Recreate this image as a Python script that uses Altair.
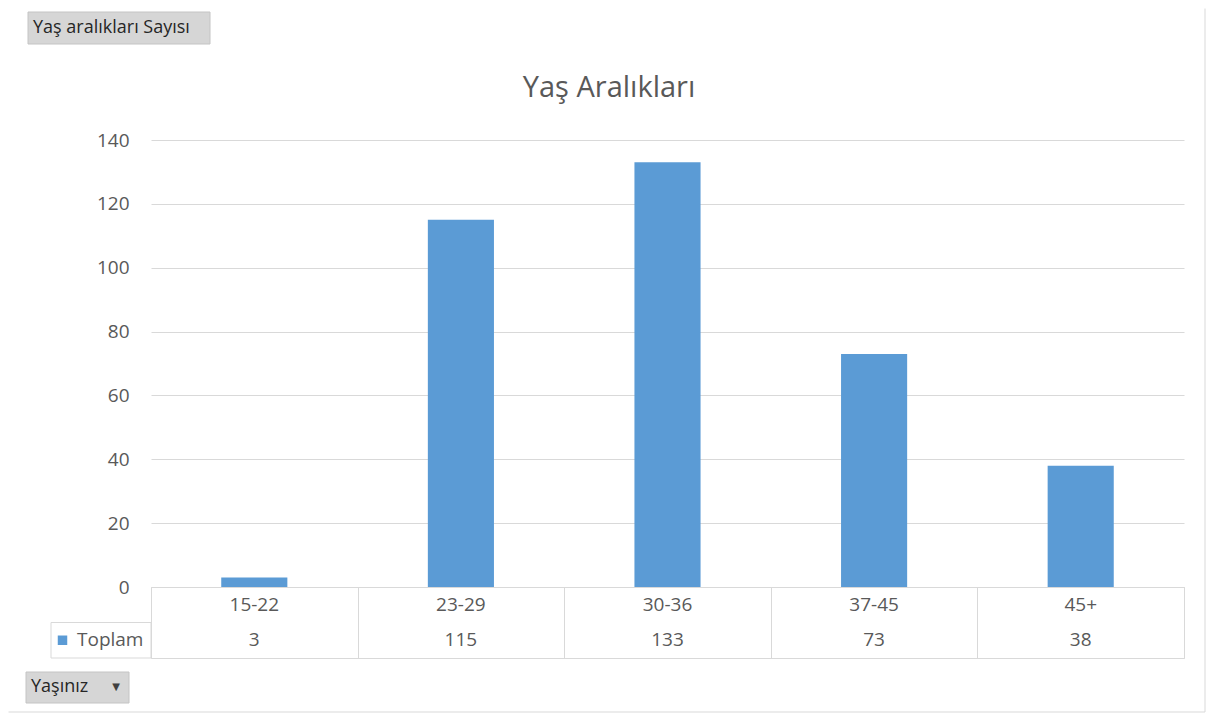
import altair as alt
import pandas as pd

# ---- data ----
categories = ["15-22", "23-29", "30-36", "37-45", "45+"]
values = [3, 115, 133, 73, 38]
series_name = "Toplam"
y_ticks = [0, 20, 40, 60, 80, 100, 120, 140]
chart_title = "Yaş Aralıkları"
field_button = "Yaş aralıkları Sayısı"
axis_button = "Yaşınız"

FONT = "Open Sans"
BAR = "#5B9BD5"
GRID = "#d9d9d9"
TXT = "#595959"
PW, PH, TH = 1033, 447, 71

bars_df = pd.DataFrame({"cat": categories, "val": values})
rows = []
for c, v in zip(categories, values):
    rows.append({"cat": c, "row": "h", "txt": c})
    rows.append({"cat": c, "row": "v", "txt": str(v)})
table_df = pd.DataFrame(rows)
one = pd.DataFrame({"k": [0]})

xscale = alt.Scale(domain=categories, paddingInner=0, paddingOuter=0)

bars = alt.Chart(bars_df).mark_bar(color=BAR, width=alt.RelativeBandSize(0.32)).encode(
    x=alt.X("cat:N", scale=xscale, axis=None, sort=categories),
    y=alt.Y("val:Q", scale=alt.Scale(domain=[0, 140], nice=False),
            axis=alt.Axis(values=y_ticks, title=None, grid=True, gridColor=GRID,
                          ticks=False, domain=False, labelFont=FONT, labelFontSize=19,
                          labelColor=TXT, labelPadding=22)),
)

btn_top_rect = alt.Chart(one).mark_rect(fill="#d6d6d6", stroke="#c4c4c4", strokeWidth=1).encode(
    x=alt.value(-123), x2=alt.value(59), y=alt.value(-128), y2=alt.value(-96))
btn_top_text = alt.Chart(one).mark_text(align="left", baseline="middle", font=FONT,
                                        fontSize=18, color="#262626",
                                        text=field_button).encode(
    x=alt.value(-118), y=alt.value(-112))
title_text = alt.Chart(one).mark_text(align="center", baseline="alphabetic", font=FONT,
                                      fontSize=29, color=TXT, text=chart_title).encode(
    x=alt.value(458), y=alt.value(-43))
border_r = alt.Chart(one).mark_rule(color=GRID, strokeWidth=1).encode(
    x=alt.value(1054), y=alt.value(-131.5), y2=alt.value(572))
border_b = alt.Chart(one).mark_rule(color=GRID, strokeWidth=1).encode(
    x=alt.value(-142.5), x2=alt.value(1054), y=alt.value(572))

top = alt.layer(btn_top_rect, btn_top_text, title_text, border_r, border_b, bars).properties(
    width=PW, height=PH)

# ---- data table ----
yscale = alt.Scale(domain=["h", "v"], paddingInner=0, paddingOuter=0)
xt = alt.X("cat:N", scale=xscale, sort=categories,
           axis=alt.Axis(grid=True, gridColor=GRID, labels=False, ticks=False,
                         domain=False, tickBand="extent", title=None))
yt = alt.Y("row:N", scale=yscale,
           axis=alt.Axis(grid=True, gridColor=GRID, labels=False, ticks=False,
                         domain=False, tickBand="extent", title=None))

cells = alt.Chart(table_df).mark_text(font=FONT, fontSize=19, color=TXT,
                                      baseline="middle").encode(
    x=xt, y=yt, text="txt:N")

vrow = pd.DataFrame({"row": ["v"], "name": [series_name]})
left_cell = alt.Chart(vrow).mark_rect(fill="white", fillOpacity=0, stroke=GRID,
                                      strokeWidth=1).encode(
    x=alt.value(-100), x2=alt.value(0), y=alt.Y("row:N", scale=yscale, axis=None))
swatch = alt.Chart(vrow).mark_square(color=BAR, size=90, opacity=1).encode(
    x=alt.value(-88.5), y=alt.Y("row:N", scale=yscale, axis=None))
name_txt = alt.Chart(vrow).mark_text(align="left", baseline="middle", font=FONT,
                                     fontSize=19, color=TXT).encode(
    x=alt.value(-74), y=alt.Y("row:N", scale=yscale, axis=None), text="name:N")

btn_bot_rect = alt.Chart(one).mark_rect(fill="#d6d6d6", stroke="#c4c4c4", strokeWidth=1).encode(
    x=alt.value(-125), x2=alt.value(-22), y=alt.value(85), y2=alt.value(116))
btn_bot_text = alt.Chart(one).mark_text(align="left", baseline="middle", font=FONT,
                                        fontSize=18, color="#262626",
                                        text=axis_button).encode(
    x=alt.value(-120), y=alt.value(100))
btn_bot_arrow = alt.Chart(one).mark_text(align="center", baseline="middle", font="DejaVu Sans",
                                         fontSize=10, color="#404040", text="▼").encode(
    x=alt.value(-35), y=alt.value(100))

table = alt.layer(cells, left_cell, swatch, name_txt, btn_bot_rect, btn_bot_text,
                  btn_bot_arrow).properties(
    width=PW, height=TH, view=alt.ViewBackground(stroke=GRID, strokeWidth=1))

chart = alt.vconcat(top, table, spacing=0, bounds="flush").properties(
    padding=0, background="white"
).configure_view(strokeWidth=0)

chart.save("out.html", embed_options={"renderer": "svg", "actions": False})
